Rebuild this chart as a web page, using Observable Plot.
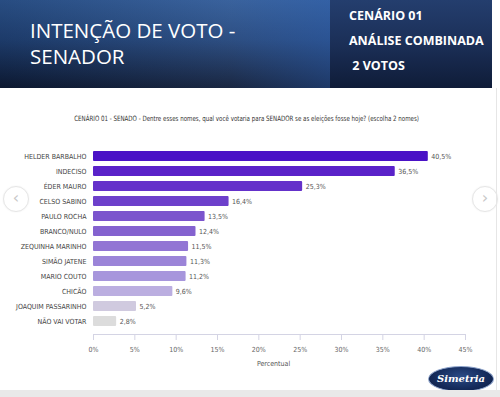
<!DOCTYPE html>
<html>
<head>
<meta charset="utf-8">
<script src="https://cdn.jsdelivr.net/npm/d3@7"></script>
<script src="https://cdn.jsdelivr.net/npm/@observablehq/plot@0.6"></script>
<style>
  html, body { margin: 0; padding: 0; background: #fff; }
  #wrap { position: relative; width: 500px; height: 397px; overflow: hidden; background: #fff; font-family: "Open Sans", "Noto Sans", sans-serif; }
  #header { position: absolute; left: 0; top: 0; width: 492px; height: 88px;
    background: linear-gradient(180deg, #2f5a98 0%, #22457c 45%, #0e1c38 100%); }
  #header .left { position: absolute; left: 0; top: 0; width: 330px; height: 88px;
    background: linear-gradient(90deg, rgba(0,0,0,0.15) 0%, rgba(255,255,255,0.05) 70%, rgba(60,110,190,0.35) 100%); }
  #header .right { position: absolute; left: 330px; top: 0; width: 162px; height: 88px;
    background: linear-gradient(180deg, #243e6e 0%, #1b2f57 50%, #0f1c38 100%); }
  .title { position: absolute; left: 30px; color: #fff; font-size: 20.5px; line-height: 20.5px; font-weight: 400; font-family: "Open Sans", sans-serif; white-space: nowrap; }
  #side { position: absolute; left: 349px; top: 3px; color: #fff; font-size: 12.5px; line-height: 25px; font-weight: 700; font-family: "Open Sans", sans-serif; }
  .cond { font-family: "DejaVu Sans Condensed", "DejaVu Sans", sans-serif; font-stretch: condensed; }
  #sub { position: absolute; left: 0; width: 493px; top: 114px; text-align: center; font-size: 7.3px; color: #333;
    transform: scaleX(0.84); transform-origin: 247px 0; white-space: nowrap; }
  #chart { position: absolute; left: 0; top: 128px; }
  .nav { position: absolute; width: 24px; height: 24px; border-radius: 50%; border: 1px solid #e6e6e6; background: #fff;
    color: #c8c8c8; font-size: 16px; line-height: 22px; text-align: center; font-family: "DejaVu Sans", sans-serif; box-shadow: 0 0 2px rgba(0,0,0,0.06); }
  #logo { position: absolute; left: 428px; top: 366px; width: 64px; height: 24px; border-radius: 50%;
    background: radial-gradient(ellipse at 50% 40%, #2b4b86 0%, #142a5a 60%, #0b1a3e 100%);
    border: 1px solid #8aa0c8; color: #fff; font-family: "DejaVu Serif", serif; font-weight: 700; font-size: 10px; line-height: 24px; text-align: center; font-style: italic; }
  #bottom { position: absolute; left: 0; top: 390px; width: 500px; height: 7px; background: #e9e9e9; }
  #edge { position: absolute; left: 496px; top: 88px; width: 1px; height: 302px; background: #e6e6e6; }
  #chart svg text { font-stretch: condensed; }
</style>
</head>
<body>
<div id="wrap">
  <div id="header"><div class="left"></div><div class="right"></div></div>
  <div class="title" style="top:20px;">INTENÇÃO DE VOTO -</div>
  <div class="title" style="top:45.5px;">SENADOR</div>
  <div id="side">CENÁRIO 01<br>ANÁLISE COMBINADA<br>&nbsp;2 VOTOS</div>
  <div id="sub" class="cond">CENÁRIO 01 - SENADO - Dentre esses nomes, qual você votaria para SENADOR se as eleições fosse hoje? (escolha 2 nomes)</div>
  <div id="chart"></div>
  <div class="nav" style="left:3px;top:186px;">‹</div>
  <div class="nav" style="left:472px;top:186px;">›</div>
  <div id="edge"></div>
  <div id="logo">Simetria</div>
  <div id="bottom"></div>
</div>
<script>
const names = ["HELDER BARBALHO", "INDECISO", "ÉDER MAURO", "CELSO SABINO", "PAULO ROCHA", "BRANCO/NULO",
  "ZEQUINHA MARINHO", "SIMÃO JATENE", "MARIO COUTO", "CHICÃO", "JOAQUIM PASSARINHO", "NÃO VAI VOTAR"];
const values = [40.5, 36.5, 25.3, 16.4, 13.5, 12.4, 11.5, 11.3, 11.2, 9.6, 5.2, 2.8];
const xTicks = [0, 5, 10, 15, 20, 25, 30, 35, 40, 45];

const barColors = ["#4a12c6", "#5a22c9", "#6431ca", "#6d40cb", "#7b54cd", "#8462cf", "#9275d4", "#9b84d8",
  "#a796dc", "#bbaee0", "#d0cadf", "#dcdcdc"];

const data = names.map((n, i) => ({name: n, value: values[i], color: barColors[i]}));
const fmt = v => v.toFixed(1).replace(".", ",") + "%";
const font = "'DejaVu Sans Condensed', 'DejaVu Sans', sans-serif";

const chart = Plot.plot({
  width: 500,
  height: 250,
  marginLeft: 93,
  marginRight: 35,
  marginTop: 15,
  marginBottom: 44,
  style: {fontFamily: font, fontSize: "7px", color: "#555", background: "transparent"},
  x: {domain: [0, 45]},
  y: {domain: names, padding: 0.36},
  marks: [
    Plot.barX(data, {y: "name", x: "value", fill: "color", rx: 1}),
    Plot.text(data, {y: "name", x: "value", text: d => fmt(d.value), textAnchor: "start", dx: 3, fill: "#555", fontSize: 7}),
    Plot.axisY({tickSize: 0, tickPadding: 7, label: null, fill: "#444", fontSize: 7}),
    Plot.axisX({ticks: xTicks, tickFormat: d => d + "%", tickSize: 6, tickPadding: 7, label: null, fill: "#666", stroke: "#d4d4e4", fontSize: 7}),
    Plot.frame({anchor: "bottom", stroke: "#d4d4e4"}),
    Plot.text(["Percentual"], {frameAnchor: "bottom", dy: 31, dx: -6, fill: "#555", fontSize: 7})
  ]
});
document.getElementById("chart").appendChild(chart);
</script>
</body>
</html>
